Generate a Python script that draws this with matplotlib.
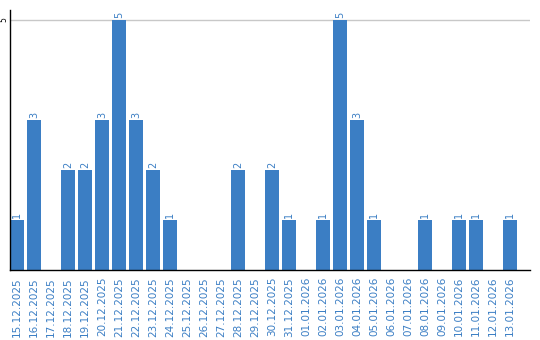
import matplotlib
matplotlib.use("Agg")
import matplotlib.pyplot as plt

dates = ["15.12.2025", "16.12.2025", "17.12.2025", "18.12.2025", "19.12.2025",
         "20.12.2025", "21.12.2025", "22.12.2025", "23.12.2025", "24.12.2025",
         "25.12.2025", "26.12.2025", "27.12.2025", "28.12.2025", "29.12.2025",
         "30.12.2025", "31.12.2025", "01.01.2026", "02.01.2026", "03.01.2026",
         "04.01.2026", "05.01.2026", "06.01.2026", "07.01.2026", "08.01.2026",
         "09.01.2026", "10.01.2026", "11.01.2026", "12.01.2026", "13.01.2026"]
values = [1, 3, 0, 2, 2, 3, 5, 3, 2, 1,
          0, 0, 0, 2, 0, 2, 1, 0, 1, 5,
          3, 1, 0, 0, 1, 0, 1, 1, 0, 1]
yticks = [5]

bar_color = "#3b7ec4"
text_color = "#3b7ec4"

fig = plt.figure(figsize=(5.4, 3.4), dpi=100)
ax = fig.add_axes([10/540, 70/340, 520/540, 260/340])

x = list(range(len(dates)))
w = 14/17
ax.bar(x, values, width=w, color=bar_color, zorder=2)
for xi, v in zip(x, values):
    if v > 0:
        ax.text(xi, v + 0.04, str(v), rotation=90, ha="center", va="bottom",
                color=text_color, fontsize=7, zorder=3)

ax.set_xlim(-w/2, -w/2 + 520/17)
ax.set_ylim(0, 5.2)
ax.set_yticks(yticks)
ax.set_yticklabels([str(t) for t in yticks], rotation=90, va="center", fontsize=5.5)
ax.axhline(5, color="#c8c8c8", lw=1, zorder=1)
ax.set_xticks(x)
ax.set_xticklabels(dates, rotation=90, color=text_color, fontsize=7.5)
ax.tick_params(axis="both", length=0)
ax.tick_params(axis="y", pad=1)
ax.tick_params(axis="x", pad=5)
for s in ["top", "right"]:
    ax.spines[s].set_visible(False)
ax.spines["left"].set_color("black")
ax.spines["bottom"].set_color("black")
ax.spines["left"].set_linewidth(1)
ax.spines["bottom"].set_linewidth(1)

fig.savefig("out.png", dpi=100)
